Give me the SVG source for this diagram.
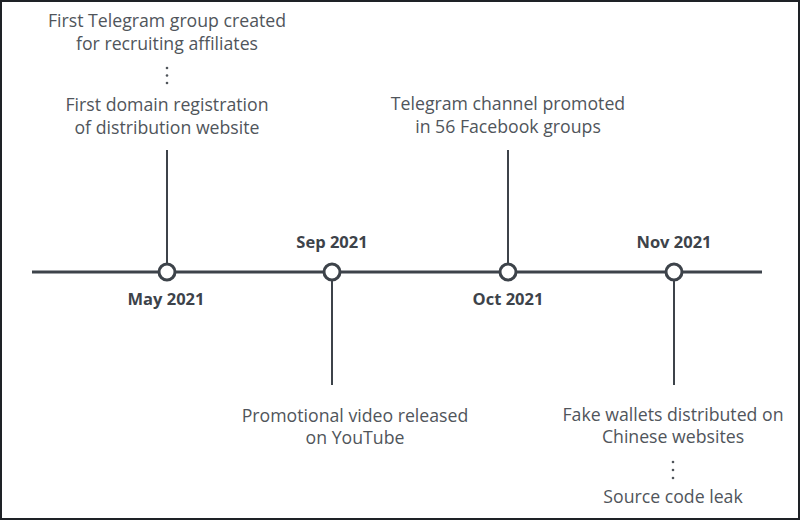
<svg xmlns="http://www.w3.org/2000/svg" width="800" height="520" viewBox="0 0 800 520">
  <style>
    .t { font-family: "Open Sans", "Liberation Sans", sans-serif; font-size: 17.7px; fill: #50555b; text-anchor: middle; }
    .d { font-family: "Open Sans", "Liberation Sans", sans-serif; font-size: 16.5px; font-weight: 700; fill: #3d434a; text-anchor: middle; }
    .ln { stroke: #3d434a; stroke-width: 2; fill: none; }
    .main { stroke: #3d434a; stroke-width: 3; fill: none; }
    .node circle.mk { fill: #ffffff; stroke: #3d434a; stroke-width: 3; }
    .node circle.dot { fill: #50555b; stroke: none; }
  </style>
  <rect x="0" y="0" width="800" height="520" fill="#ffffff"/>
  <rect x="1" y="1" width="798" height="518" fill="none" stroke="#1e2226" stroke-width="2"/>

  <g id="connectors">
    <line class="main" x1="32" y1="272" x2="762" y2="272"/>
    <line class="ln" x1="167" y1="150" x2="167" y2="263"/>
    <line class="ln" x1="332" y1="281" x2="332" y2="385"/>
    <line class="ln" x1="508" y1="150" x2="508" y2="263"/>
    <line class="ln" x1="674" y1="281" x2="674" y2="385"/>
  </g>

  <g id="may2021" class="node">
    <circle class="mk" cx="167" cy="272" r="8"/>
    <text class="d" x="166" y="305">May 2021</text>
    <text class="t" x="167" y="27">First Telegram group created</text>
    <text class="t" x="167" y="50">for recruiting affiliates</text>
    <circle class="dot" cx="167" cy="68" r="1.3"/>
    <circle class="dot" cx="167" cy="75.5" r="1.3"/>
    <circle class="dot" cx="167" cy="83" r="1.3"/>
    <text class="t" x="167" y="111">First domain registration</text>
    <text class="t" x="167" y="134">of distribution website</text>
  </g>

  <g id="sep2021" class="node">
    <circle class="mk" cx="332" cy="272" r="8"/>
    <text class="d" x="332" y="248">Sep 2021</text>
    <text class="t" x="355" y="422">Promotional video released</text>
    <text class="t" x="355" y="444">on YouTube</text>
  </g>

  <g id="oct2021" class="node">
    <circle class="mk" cx="508" cy="272" r="8"/>
    <text class="d" x="508" y="305">Oct 2021</text>
    <text class="t" x="508" y="110">Telegram channel promoted</text>
    <text class="t" x="508" y="133">in 56 Facebook groups</text>
  </g>

  <g id="nov2021" class="node">
    <circle class="mk" cx="674" cy="272" r="8"/>
    <text class="d" x="674" y="248">Nov 2021</text>
    <text class="t" x="673" y="421">Fake wallets distributed on</text>
    <text class="t" x="673" y="443">Chinese websites</text>
    <circle class="dot" cx="673" cy="462" r="1.3"/>
    <circle class="dot" cx="673" cy="470" r="1.3"/>
    <circle class="dot" cx="673" cy="478" r="1.3"/>
    <text class="t" x="673" y="503">Source code leak</text>
  </g>
</svg>
